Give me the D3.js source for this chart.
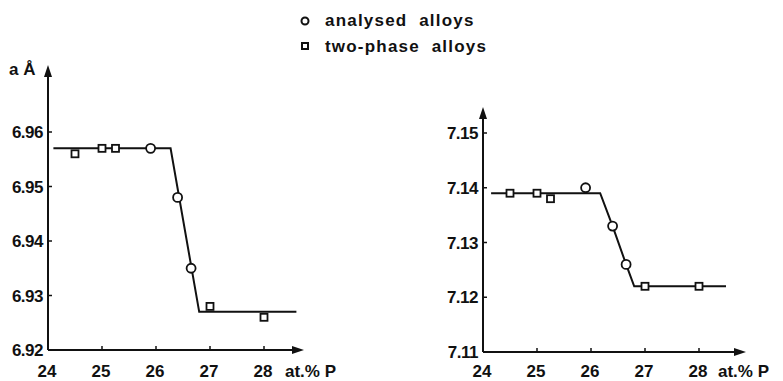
<!DOCTYPE html>
<html>
<head>
<meta charset="utf-8">
<script src="https://cdn.jsdelivr.net/npm/d3@7"></script>
<style>
  body { margin: 0; background: #fff; }
  text { font-family: "Liberation Sans", Arial, sans-serif; fill: #111; }
</style>
</head>
<body>
<svg id="chart"></svg>
<script>
const xTicks = [24, 25, 26, 27, 28];
const leftYTicks = [6.92, 6.93, 6.94, 6.95, 6.96];
const rightYTicks = [7.11, 7.12, 7.13, 7.14, 7.15];

// left panel
const leftAnalysedX = [25.9, 26.4, 26.65];
const leftAnalysedY = [6.957, 6.948, 6.935];
const leftTwoPhaseX = [24.5, 25.0, 25.25, 27.0, 28.0];
const leftTwoPhaseY = [6.956, 6.957, 6.957, 6.928, 6.926];
const leftFitX = [24.1, 26.27, 26.8, 28.6];
const leftFitY = [6.957, 6.957, 6.927, 6.927];

// right panel
const rightAnalysedX = [25.9, 26.4, 26.65];
const rightAnalysedY = [7.140, 7.133, 7.126];
const rightTwoPhaseX = [24.5, 25.0, 25.25, 27.0, 28.0];
const rightTwoPhaseY = [7.139, 7.139, 7.138, 7.122, 7.122];
const rightFitX = [24.15, 26.17, 26.4, 26.65, 26.8, 28.5];
const rightFitY = [7.139, 7.139, 7.133, 7.126, 7.122, 7.122];

const width = 783;
const height = 381;

const svg = d3.select('#chart')
  .attr('width', width)
  .attr('height', height);

function zip(xs, ys) {
  return xs.map((x, i) => ({ x: x, y: ys[i] }));
}

function drawPanel(opts) {
  const xScale = d3.scaleLinear()
    .domain([24, 28])
    .range([opts.left, opts.left + 216]);
  const yScale = d3.scaleLinear()
    .domain(opts.yDomain)
    .range([opts.bottom, opts.top]);

  const g = svg.append('g');
  const x0 = xScale(24);
  const y0 = yScale(opts.yDomain[0]);

  // axes with arrowheads
  g.append('line')
    .attr('x1', x0).attr('y1', y0)
    .attr('x2', opts.xEnd - 8).attr('y2', y0)
    .attr('stroke', '#111').attr('stroke-width', 2);
  g.append('path')
    .attr('d', `M${opts.xEnd},${y0} L${opts.xEnd - 12},${y0 - 4} L${opts.xEnd - 12},${y0 + 4} Z`)
    .attr('fill', '#111');
  g.append('line')
    .attr('x1', x0).attr('y1', y0)
    .attr('x2', x0).attr('y2', opts.yEnd + 8)
    .attr('stroke', '#111').attr('stroke-width', 2);
  g.append('path')
    .attr('d', `M${x0},${opts.yEnd} L${x0 - 4},${opts.yEnd + 12} L${x0 + 4},${opts.yEnd + 12} Z`)
    .attr('fill', '#111');

  // x ticks
  g.selectAll('.xtick')
    .data(xTicks.slice(1))
    .enter()
    .append('line')
      .attr('x1', d => xScale(d)).attr('x2', d => xScale(d))
      .attr('y1', y0).attr('y2', y0 - 4)
      .attr('stroke', '#111').attr('stroke-width', 1.5);
  g.selectAll('.xlabel')
    .data(xTicks)
    .enter()
    .append('text')
      .attr('x', d => xScale(d) - 1)
      .attr('y', 377)
      .attr('text-anchor', 'middle')
      .style('font-size', '17px')
      .style('font-weight', 'bold')
      .text(d => d);
  g.append('text')
    .attr('x', opts.xLabelX)
    .attr('y', 377)
    .style('font-size', '17px')
    .style('font-weight', 'bold')
    .text('at.% P');

  // y ticks
  g.selectAll('.ytick')
    .data(opts.yTicks)
    .enter()
    .append('line')
      .attr('x1', x0).attr('x2', x0 + 4)
      .attr('y1', d => yScale(d)).attr('y2', d => yScale(d))
      .attr('stroke', '#111').attr('stroke-width', 1.5);
  g.selectAll('.ylabel')
    .data(opts.yTicks)
    .enter()
    .append('text')
      .attr('x', x0 - 5)
      .attr('y', d => yScale(d) + 6)
      .attr('text-anchor', 'end')
      .style('font-size', '17px')
      .style('font-weight', 'bold')
      .style('letter-spacing', '-0.5px')
      .text(d => d.toFixed(2));

  // fitted line
  const line = d3.line()
    .x(d => xScale(d.x))
    .y(d => yScale(d.y));
  g.append('path')
    .datum(zip(opts.fitX, opts.fitY))
    .attr('d', line)
    .attr('fill', 'none')
    .attr('stroke', '#111')
    .attr('stroke-width', 2);

  // two-phase alloys (squares)
  g.selectAll('.sq')
    .data(zip(opts.twoX, opts.twoY))
    .enter()
    .append('rect')
      .attr('x', d => xScale(d.x) - 3.5)
      .attr('y', d => yScale(d.y) - 3.5)
      .attr('width', 7)
      .attr('height', 7)
      .attr('fill', '#fff')
      .attr('stroke', '#111')
      .attr('stroke-width', 1.8);

  // analysed alloys (circles)
  g.selectAll('.ci')
    .data(zip(opts.anX, opts.anY))
    .enter()
    .append('circle')
      .attr('cx', d => xScale(d.x))
      .attr('cy', d => yScale(d.y))
      .attr('r', 4.5)
      .attr('fill', '#fff')
      .attr('stroke', '#111')
      .attr('stroke-width', 1.8);
}

drawPanel({
  left: 48, top: 132, bottom: 350, yEnd: 65, xEnd: 304, xLabelX: 285,
  yDomain: [6.92, 6.96], yTicks: leftYTicks,
  fitX: leftFitX, fitY: leftFitY,
  twoX: leftTwoPhaseX, twoY: leftTwoPhaseY,
  anX: leftAnalysedX, anY: leftAnalysedY
});

drawPanel({
  left: 483, top: 133, bottom: 352, yEnd: 107, xEnd: 746, xLabelX: 718,
  yDomain: [7.11, 7.15], yTicks: rightYTicks,
  fitX: rightFitX, fitY: rightFitY,
  twoX: rightTwoPhaseX, twoY: rightTwoPhaseY,
  anX: rightAnalysedX, anY: rightAnalysedY
});

// y axis title on the left panel
svg.append('text')
  .attr('x', 9)
  .attr('y', 75)
  .style('font-size', '17px')
  .style('font-weight', 'bold')
  .text('a Å');

// legend
const legend = svg.append('g');
legend.append('circle')
  .attr('cx', 305).attr('cy', 21).attr('r', 3.5)
  .attr('fill', '#fff').attr('stroke', '#111').attr('stroke-width', 2);
legend.append('rect')
  .attr('x', 302).attr('y', 43).attr('width', 6).attr('height', 6)
  .attr('fill', '#fff').attr('stroke', '#111').attr('stroke-width', 2);
legend.append('text')
  .attr('x', 325).attr('y', 26)
  .style('font-size', '17px')
  .style('font-weight', 'bold')
  .style('letter-spacing', '1.2px')
  .style('white-space', 'pre')
  .text('analysed  alloys');
legend.append('text')
  .attr('x', 325).attr('y', 52)
  .style('font-size', '17px')
  .style('font-weight', 'bold')
  .style('letter-spacing', '1.2px')
  .style('white-space', 'pre')
  .text('two-phase  alloys');
</script>
</body>
</html>
